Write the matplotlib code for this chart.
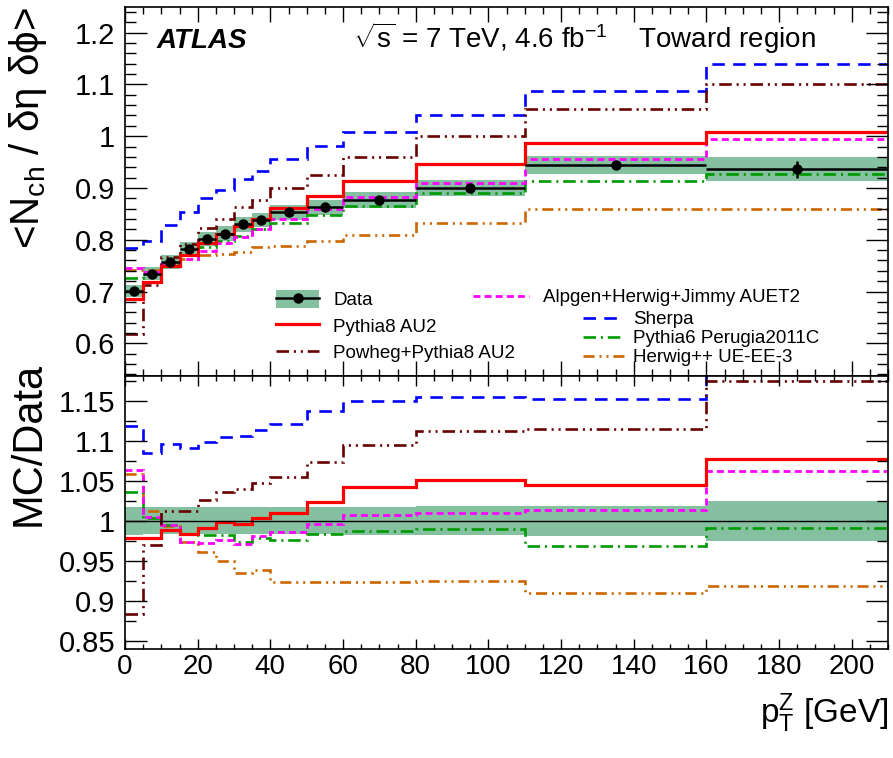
import numpy as np
import matplotlib
matplotlib.use("Agg")
import matplotlib.pyplot as plt
from matplotlib.patches import Patch
from matplotlib.lines import Line2D
from matplotlib.ticker import MultipleLocator, FuncFormatter

plt.rcParams['font.family'] = ['Liberation Sans', 'DejaVu Sans']
plt.rcParams['mathtext.fontset'] = 'custom'
plt.rcParams['mathtext.rm'] = 'Liberation Sans'
plt.rcParams['mathtext.it'] = 'Liberation Sans:italic'
plt.rcParams['mathtext.bf'] = 'Liberation Sans:bold'
plt.rcParams['lines.scale_dashes'] = False

# bin edges in pT(Z) [GeV]
edges = [0, 5, 10, 15, 20, 25, 30, 35, 40, 50, 60, 80, 110, 160, 210]

# data
data = [0.701, 0.734, 0.757, 0.783, 0.801, 0.812, 0.830, 0.838, 0.853, 0.863, 0.876, 0.900, 0.944, 0.936]
data_stat = [0.002, 0.002, 0.002, 0.002, 0.002, 0.002, 0.002, 0.002, 0.002, 0.003, 0.003, 0.004, 0.006, 0.017]
data_err = [0.012, 0.0125, 0.0129, 0.0133, 0.0136, 0.0138, 0.0141, 0.0142, 0.0145, 0.0147, 0.0153, 0.0162, 0.0175, 0.0234]

# MC predictions (top panel)
pythia8 = [0.686, 0.718, 0.749, 0.770, 0.794, 0.811, 0.827, 0.841, 0.861, 0.884, 0.913, 0.946, 0.987, 1.008]
powheg = [0.619, 0.712, 0.766, 0.792, 0.822, 0.841, 0.863, 0.877, 0.900, 0.926, 0.960, 1.001, 1.052, 1.100]
alpgen = [0.745, 0.737, 0.753, 0.763, 0.779, 0.793, 0.806, 0.821, 0.840, 0.860, 0.882, 0.909, 0.956, 0.994]
sherpa = [0.784, 0.797, 0.829, 0.854, 0.880, 0.897, 0.918, 0.933, 0.956, 0.981, 1.008, 1.040, 1.088, 1.140]
pythia6 = [0.726, 0.736, 0.753, 0.770, 0.787, 0.798, 0.808, 0.820, 0.832, 0.848, 0.865, 0.891, 0.914, 0.927]
herwig = [0.742, 0.742, 0.752, 0.762, 0.770, 0.772, 0.776, 0.786, 0.788, 0.797, 0.809, 0.833, 0.859, 0.860]

# MC/Data ratios (bottom panel)
pythia8_r = [0.979, 0.979, 0.989, 0.9835, 0.991, 0.999, 0.996, 1.004, 1.010, 1.024, 1.042, 1.051, 1.045, 1.077]
powheg_r = [0.8835, 0.970, 1.012, 1.012, 1.026, 1.036, 1.040, 1.047, 1.055, 1.0735, 1.095, 1.112, 1.115, 1.175]
alpgen_r = [1.063, 1.005, 0.995, 0.974, 0.972, 0.976, 0.9715, 0.9805, 0.9855, 0.996, 1.007, 1.010, 1.013, 1.0625]
sherpa_r = [1.118, 1.085, 1.096, 1.091, 1.099, 1.1045, 1.106, 1.114, 1.121, 1.137, 1.150, 1.155, 1.152, 1.218]
pythia6_r = [1.036, 1.003, 0.995, 0.983, 0.982, 0.982, 0.974, 0.979, 0.976, 0.983, 0.987, 0.990, 0.968, 0.991]
herwig_r = [1.059, 1.012, 0.994, 0.973, 0.961, 0.950, 0.935, 0.938, 0.924, 0.924, 0.923, 0.925, 0.910, 0.919]

labels = ['Pythia8 AU2', 'Powheg+Pythia8 AU2', 'Alpgen+Herwig+Jimmy AUET2',
          'Sherpa', 'Pythia6 Perugia2011C', 'Herwig++ UE-EE-3']

BAND = '#85c1a1'
styles = [
    dict(color='#ff0000', lw=2.3, ls='-'),
    dict(color='#660000', lw=1.9, ls=(0, (9, 3.5, 1.5, 3.5, 1.5, 3.5))),
    dict(color='#ff00ff', lw=2.0, ls=(0, (5, 3))),
    dict(color='#0000ff', lw=1.9, ls=(0, (9, 6))),
    dict(color='#009900', lw=1.9, ls=(0, (9, 3.5, 1.5, 3.5))),
    dict(color='#cc6600', lw=1.9, ls=(0, (8, 3.5, 1.5, 3.5, 1.5, 3.5))),
]

W, H = 893, 758
fig = plt.figure(figsize=(W / 100, H / 100), dpi=100)
ax1 = fig.add_axes([125 / W, 1 - 376 / H, 763 / W, (376 - 6.7) / H])
ax2 = fig.add_axes([125 / W, 1 - 649.3 / H, 763 / W, (649.3 - 376) / H])

edges_a = np.array(edges, dtype=float)
centers = 0.5 * (edges_a[1:] + edges_a[:-1])
halfw = 0.5 * np.diff(edges_a)
d = np.array(data)
e = np.array(data_err)

# top panel
ax1.stairs(d + e, edges_a, baseline=d - e, fill=True, color=BAND, lw=0)
mc_top = [pythia8, powheg, alpgen, sherpa, pythia6, herwig]
for vals, st in zip(mc_top[::-1], styles[::-1]):
    ax1.stairs(vals, edges_a, baseline=None, color=st['color'], lw=st['lw'], linestyle=st['ls'])
ax1.errorbar(centers, d, xerr=halfw, yerr=data_stat, fmt='o', color='black',
             ms=6.5, lw=1.8, capsize=0, zorder=5)

# bottom panel
ax2.stairs(1 + e / d, edges_a, baseline=1 - e / d, fill=True, color=BAND, lw=0)
ax2.axhline(1.0, color='black', lw=1.0, zorder=4)
mc_rat = [pythia8_r, powheg_r, alpgen_r, sherpa_r, pythia6_r, herwig_r]
for vals, st in zip(mc_rat[::-1], styles[::-1]):
    ax2.stairs(vals, edges_a, baseline=None, color=st['color'], lw=st['lw'], linestyle=st['ls'])

fmt = FuncFormatter(lambda v, p: '%g' % round(v, 3))
for ax in (ax1, ax2):
    ax.set_xlim(0, 210)
    ax.xaxis.set_major_locator(MultipleLocator(20))
    ax.xaxis.set_minor_locator(MultipleLocator(5))
    ax.yaxis.set_major_formatter(fmt)
    ax.tick_params(which='both', direction='in', top=True, right=True, width=1.0)
    ax.tick_params(axis='x', labelsize=20)
    ax.tick_params(axis='y', labelsize=21, pad=7)
    for s in ax.spines.values():
        s.set_linewidth(1.2)

ax1.set_ylim(0.537, 1.25)
ax1.yaxis.set_major_locator(MultipleLocator(0.1))
ax1.yaxis.set_minor_locator(MultipleLocator(0.02))
ax1.tick_params(axis='y', which='major', length=15.5)
ax1.tick_params(axis='y', which='minor', length=8)
ax1.tick_params(axis='x', which='major', length=10.5)
ax1.tick_params(axis='x', which='minor', length=5)
ax1.tick_params(axis='x', labelbottom=False)

ax2.set_ylim(0.8395, 1.181)
ax2.yaxis.set_major_locator(MultipleLocator(0.05))
ax2.yaxis.set_minor_locator(MultipleLocator(0.025))
ax2.tick_params(axis='y', which='major', length=15.5)
ax2.tick_params(axis='y', which='minor', length=8)
ax2.tick_params(axis='x', which='major', length=7.5)
ax2.tick_params(axis='x', which='minor', length=3.8)

ax1.set_ylabel('<N$_{\\mathrm{ch}}$ / δη δϕ>', fontsize=29, loc='top')
ax1.yaxis.set_label_coords(-0.100, 1.0)
ax2.set_ylabel('MC/Data', fontsize=30, loc='top')
ax2.yaxis.set_label_coords(-0.100, 1.05)
ax2.set_xlabel(r'p$_{\mathrm{T}}^{\mathrm{Z}}$ [GeV]', fontsize=24, loc='right')
ax2.xaxis.set_label_coords(1.0, -0.155)

ax1.text(157 / W, 1 - 48 / H, 'ATLAS', transform=fig.transFigure, fontsize=20,
         fontweight='bold', fontstyle='italic')
ax1.text(353 / W, 1 - 48 / H, r'$\sqrt{\mathrm{s}}$ = 7 TeV, 4.6 fb$^{\mathrm{-1}}$    Toward region',
         transform=fig.transFigure, fontsize=20)

# legends
data_h = (Patch(facecolor=BAND, edgecolor='none'),
          Line2D([], [], color='black', marker='o', ms=6.5, lw=1.8))
mc_h = [Line2D([], [], color=st['color'], lw=st['lw'], linestyle=st['ls']) for st in styles]

leg1 = ax1.legend([data_h, mc_h[0], mc_h[1]], ['Data', labels[0], labels[1]],
                  loc='upper left', bbox_to_anchor=(276 / W, 1 - 290 / H),
                  bbox_transform=fig.transFigure, frameon=False, fontsize=13.5,
                  borderpad=0, borderaxespad=0, handlelength=2.3, handleheight=1.1,
                  handletextpad=0.75, labelspacing=0.38)
ax1.add_artist(leg1)
leg2 = ax1.legend([mc_h[2]], [labels[2]],
                  loc='upper left', bbox_to_anchor=(473 / W, 1 - 289 / H),
                  bbox_transform=fig.transFigure, frameon=False, fontsize=13.5,
                  borderpad=0, borderaxespad=0, handlelength=3.0,
                  handletextpad=0.75)
ax1.add_artist(leg2)
ax1.legend(mc_h[3:], labels[3:],
           loc='upper left', bbox_to_anchor=(583 / W, 1 - 311 / H),
           bbox_transform=fig.transFigure, frameon=False, fontsize=13.5,
           borderpad=0, borderaxespad=0, handlelength=2.2,
           handletextpad=0.45, labelspacing=0.1)

fig.savefig('out.png', dpi=100)
